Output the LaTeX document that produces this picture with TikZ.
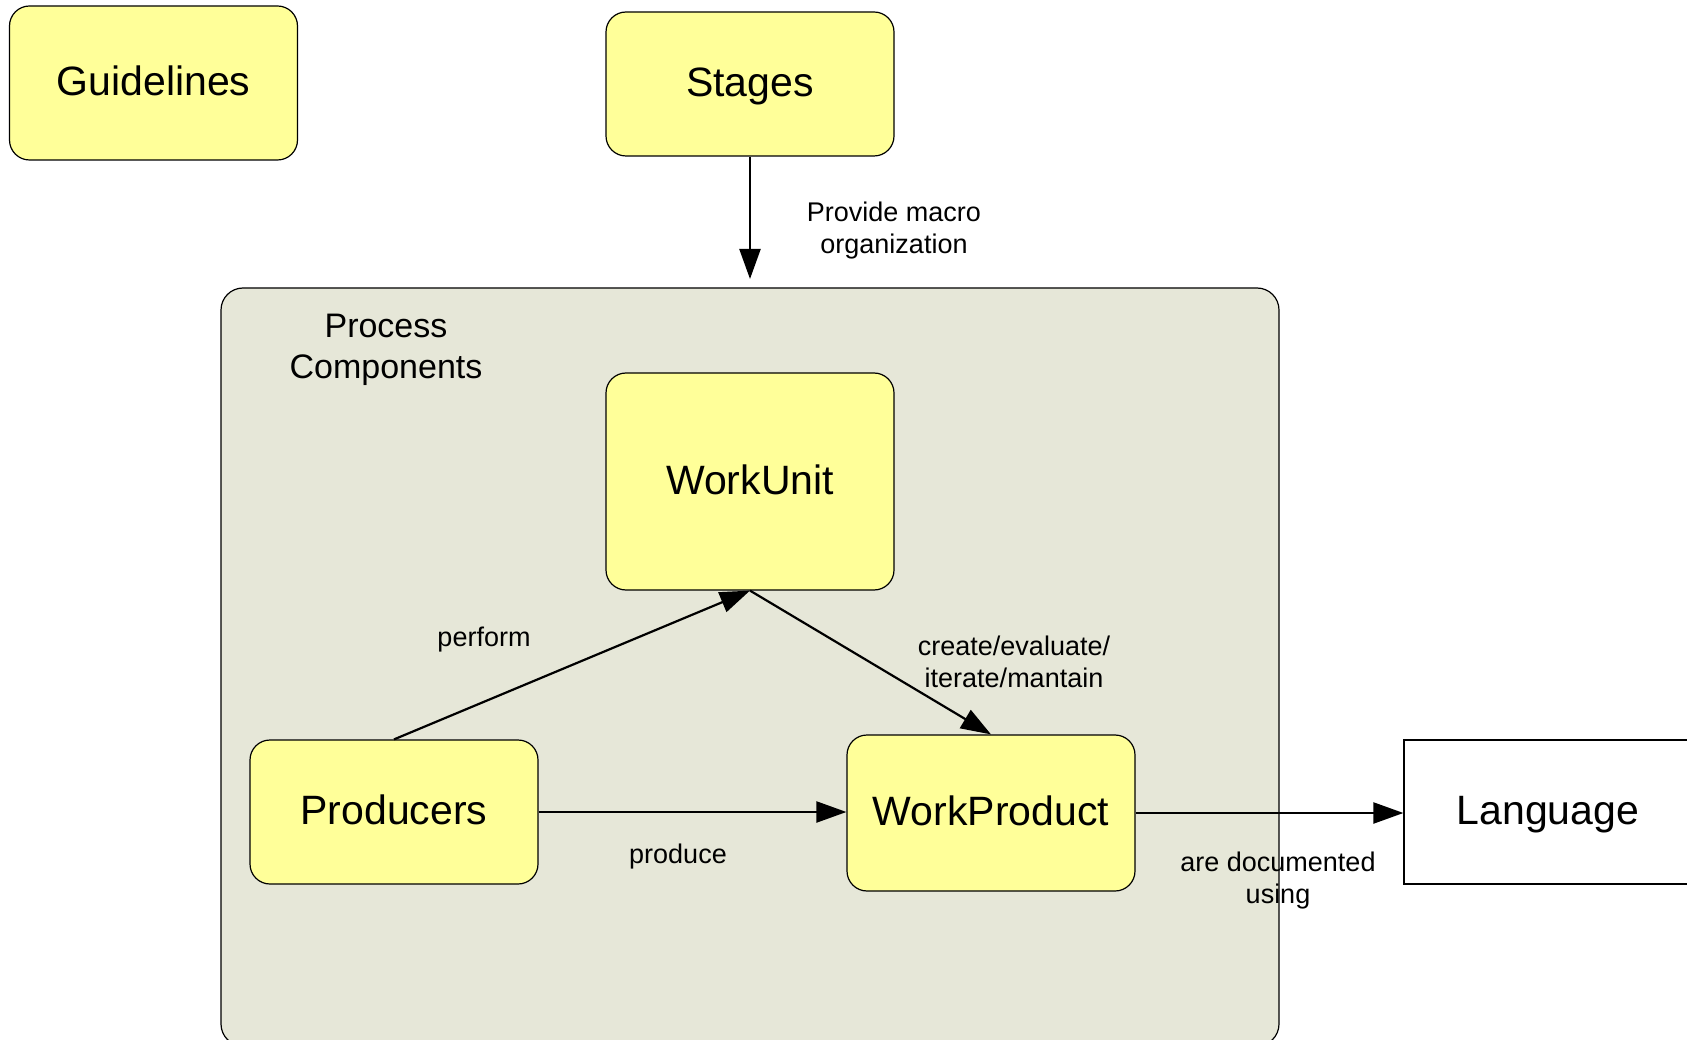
\documentclass[tikz,border=0pt]{standalone}
\usepackage{fontspec}
\setmainfont{Liberation Sans}
\usetikzlibrary{arrows.meta}
\definecolor{boxyellow}{HTML}{FFFF99}
\definecolor{pcfill}{HTML}{E6E7D8}
\tikzset{
  yel/.style={draw=black, line width=1.2pt, fill=boxyellow, rounded corners=20pt,
    minimum width=288pt, font=\fontsize{41}{49}\selectfont, inner sep=0pt,
    text height=34pt, text depth=9pt},
  plain/.style={draw=black, line width=1.2pt, fill=white,
    minimum width=288pt, font=\fontsize{41}{49}\selectfont, inner sep=0pt,
    text height=34pt, text depth=9pt},
  lbl/.style={align=center, font=\fontsize{27}{32}\selectfont, inner sep=0pt},
  conn/.style={line width=2.2pt, -{Triangle[length=30pt,width=21pt]}}
}
\begin{document}
\begin{tikzpicture}[x=1pt,y=-1pt]
\useasboundingbox (0,0) rectangle (1687,1040);
\fill[white] (0,0) rectangle (1687,1040);
\node[draw=black, line width=1.2pt, fill=pcfill, rounded corners=22pt,
  minimum width=1058pt, minimum height=758pt, inner sep=0pt] (pc) at (750,667) {};
\node[align=center, font=\fontsize{34}{41}\selectfont, inner sep=0pt] (pctitle) at (386,350) {Process\\Components};
\node[yel, minimum height=154pt] (guide) at (153.5,83) {Guidelines};
\node[yel, minimum height=144pt] (stages) at (750,84) {Stages};
\node[yel, minimum height=217pt] (wu) at (750,481.5) {WorkUnit};
\node[yel, minimum height=144pt] (prod) at (394,812) {Producers};
\node[yel, minimum height=156pt] (wp) at (991,813) {WorkProduct};
\node[plain, minimum height=144pt] (lang) at (1548,812) {Language};
\coordinate (stagetip) at (750,279);
\draw[conn] (stages.south) -- (stagetip);
\draw[conn] (prod.north) -- (wu.south);
\draw[conn] (wu.south) -- (wp.north);
\draw[conn] (prod.east) -- (prod.east -| wp.west);
\draw[conn] (wp.east) -- (wp.east -| lang.west);
\node[lbl] (l1) at (894,230.5) {Provide macro\\organization};
\node[lbl] (l2) at (484,639.5) {perform};
\node[lbl] (l3) at (678,856.5) {produce};
\node[lbl] (l4) at (1014,662) {create/evaluate/\\iterate/mantain};
\node[lbl] (l5) at (1278,880.5) {are documented\\using};
\end{tikzpicture}
\end{document}
